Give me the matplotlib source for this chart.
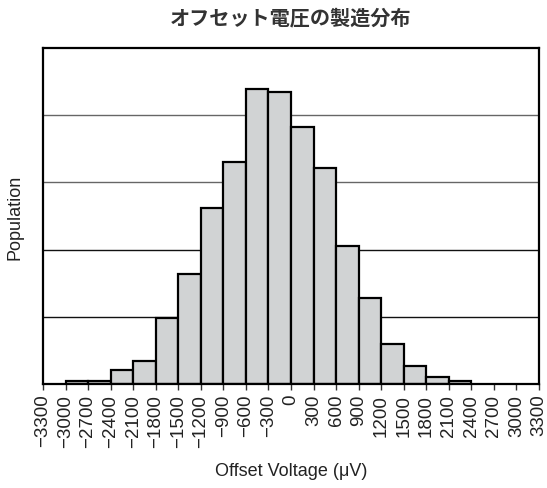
import numpy as np
import matplotlib
matplotlib.use('Agg')
import matplotlib.pyplot as plt

# histogram bins (uV) and relative population
bin_edges = list(range(-3000, 2401, 300))
population = [0.05, 0.05, 0.21, 0.34, 0.98, 1.64, 2.62, 3.30, 4.39,
              4.34, 3.83, 3.21, 2.05, 1.28, 0.60, 0.27, 0.10, 0.05]
tick_values = list(range(-3300, 3301, 300))
tick_labels = [str(v).replace('-', '\u2212') for v in tick_values]
grid_levels = [1, 2, 3, 4]

title = 'オフセット電圧の製造分布'
x_label = 'Offset Voltage (\u03bcV)'
y_label = 'Population'

plt.rcParams['font.family'] = ['Liberation Sans', 'DejaVu Sans']

fig = plt.figure(figsize=(5.47, 4.89), dpi=100)
ax = fig.add_axes([0.0786, 0.2127, 0.9068, 0.6871])

ax.set_axisbelow(True)
for lvl in grid_levels:
    ax.axhline(lvl, color='#111111' if lvl <= 2 else '#666666', lw=1.0, zorder=0)

ax.bar(bin_edges[:-1], population, width=300, align='edge',
       color='#d1d3d4', edgecolor='black', linewidth=1.6, zorder=2)

ax.set_xlim(-3300, 3300)
ax.set_ylim(0, 5)
ax.set_xticks(tick_values)
ax.set_xticklabels(tick_labels, rotation=90, fontsize=13.5, color='#222222')
ax.set_yticks([])
ax.tick_params(axis='x', direction='out', length=4, width=1, color='#333333', pad=3)

for s in ax.spines.values():
    s.set_linewidth(1.6)
    s.set_color('black')
    s.set_zorder(3)

ax.set_xlabel(x_label, fontsize=13, color='#222222', labelpad=11)
ax.set_ylabel(y_label, fontsize=13, color='#222222', labelpad=14)

fig.text(0.531, 0.963, title, ha='center', va='center', fontsize=14.5,
         fontweight='bold', color='#333333',
         family=['Noto Sans CJK JP', 'DejaVu Sans'])

fig.savefig('out.png', dpi=100, facecolor='white')
